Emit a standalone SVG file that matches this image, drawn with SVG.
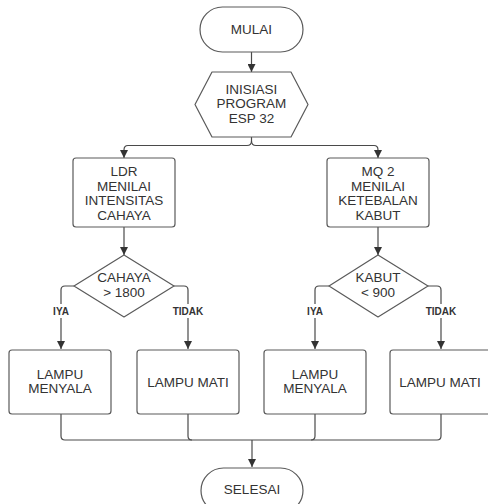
<svg xmlns="http://www.w3.org/2000/svg" width="488" height="504" viewBox="0 0 488 504">
<style>
.n{fill:#fff;stroke:#5a5a5a;stroke-width:1.2}
.t{font-family:"Liberation Sans",Arial,sans-serif;font-size:13.5px;fill:#333;text-anchor:middle;dominant-baseline:central}
.l{font-family:"Liberation Sans",Arial,sans-serif;font-size:10px;font-weight:bold;fill:#333;text-anchor:middle;dominant-baseline:central}
.c{fill:none;stroke:#4a4a4a;stroke-width:1.2}
</style>
<defs>
<marker id="ah" viewBox="0 0 10 10" refX="10" refY="5" markerWidth="8" markerHeight="8" markerUnits="userSpaceOnUse" orient="auto">
<path d="M0,0 L10,5 L0,10 Z" fill="#333"/>
</marker>
</defs>
<rect width="488" height="504" fill="#fff"/>
<g id="connectors">
<path class="c" d="M251.5,52 V72" marker-end="url(#ah)"/>
<path class="c" d="M251.5,137 V141 Q251.5,145.5 247,145.5 H128 Q124,145.5 124,150 V158" marker-end="url(#ah)"/>
<path class="c" d="M251.5,141 Q251.5,145.5 256,145.5 H374 Q378,145.5 378,150 V158" marker-end="url(#ah)"/>
<path class="c" d="M124,227 V255" marker-end="url(#ah)"/>
<path class="c" d="M378,227 V255" marker-end="url(#ah)"/>
<path class="c" d="M74,286 H65 Q61,286 61,290 V349" marker-end="url(#ah)"/>
<path class="c" d="M174,286 H184 Q188,286 188,290 V349" marker-end="url(#ah)"/>
<path class="c" d="M329,286 H319 Q315,286 315,290 V349" marker-end="url(#ah)"/>
<path class="c" d="M428,286 H437 Q441,286 441,290 V349" marker-end="url(#ah)"/>
<path class="c" d="M61,414 V436 Q61,440 65,440 H437 Q441,440 441,436 V414"/>
<path class="c" d="M188,414 V436 Q188,440 192,440"/>
<path class="c" d="M315,414 V436 Q315,440 311,440"/>
<path class="c" d="M252,440 V467" marker-end="url(#ah)"/>
<g>
<rect x="49" y="304" width="24" height="14" fill="#fff"/>
<text class="l" x="61" y="311">IYA</text>
<rect x="170" y="304" width="36" height="14" fill="#fff"/>
<text class="l" x="188" y="311">TIDAK</text>
<rect x="303" y="304" width="24" height="14" fill="#fff"/>
<text class="l" x="315" y="311">IYA</text>
<rect x="423" y="304" width="36" height="14" fill="#fff"/>
<text class="l" x="441" y="311">TIDAK</text>
</g>
</g>
<g id="mulai">
<rect class="n" x="200" y="7" width="103" height="45" rx="22.5"/>
<text class="t" x="251.5" y="29.5">MULAI</text>
</g>
<g id="inisiasi">
<path class="n" d="M212,72 H291 L308,104.5 L291,137 H212 L195,104.5 Z" stroke-linejoin="round"/>
<text class="t" x="251.5" y="89">INISIASI</text>
<text class="t" x="251.5" y="103.5">PROGRAM</text>
<text class="t" x="251.5" y="118">ESP 32</text>
</g>
<g id="ldr">
<rect class="n" x="73" y="158" width="102" height="69" rx="3"/>
<text class="t" x="124" y="171.5">LDR</text>
<text class="t" x="124" y="186">MENILAI</text>
<text class="t" x="124" y="200.5">INTENSITAS</text>
<text class="t" x="124" y="215">CAHAYA</text>
</g>
<g id="mq2">
<rect class="n" x="327" y="158" width="102" height="69" rx="3"/>
<text class="t" x="378" y="171.5">MQ 2</text>
<text class="t" x="378" y="186">MENILAI</text>
<text class="t" x="378" y="200.5">KETEBALAN</text>
<text class="t" x="378" y="215">KABUT</text>
</g>
<g id="cahaya">
<path class="n" d="M124,255 L174,286 L124,317 L74,286 Z" stroke-linejoin="round"/>
<text class="t" x="124" y="277.5">CAHAYA</text>
<text class="t" x="124" y="292">&gt; 1800</text>
</g>
<g id="kabut">
<path class="n" d="M378,255 L428,286 L378,317 L329,286 Z" stroke-linejoin="round"/>
<text class="t" x="378" y="277.5">KABUT</text>
<text class="t" x="378" y="292">&lt; 900</text>
</g>
<g id="lampu-menyala-1">
<rect class="n" x="9" y="350" width="102" height="64" rx="3"/>
<text class="t" x="60" y="374">LAMPU</text>
<text class="t" x="60" y="388.5">MENYALA</text>
</g>
<g id="lampu-mati-1">
<rect class="n" x="137" y="350" width="102" height="64" rx="3"/>
<text class="t" x="188" y="382">LAMPU MATI</text>
</g>
<g id="lampu-menyala-2">
<rect class="n" x="264" y="350" width="102" height="64" rx="3"/>
<text class="t" x="315" y="374">LAMPU</text>
<text class="t" x="315" y="388.5">MENYALA</text>
</g>
<g id="lampu-mati-2">
<rect class="n" x="390" y="350" width="102" height="64" rx="3"/>
<text class="t" x="440" y="382">LAMPU MATI</text>
</g>
<g id="selesai">
<rect class="n" x="201" y="468" width="102" height="45" rx="22.5"/>
<text class="t" x="252" y="489">SELESAI</text>
</g>
</svg>
